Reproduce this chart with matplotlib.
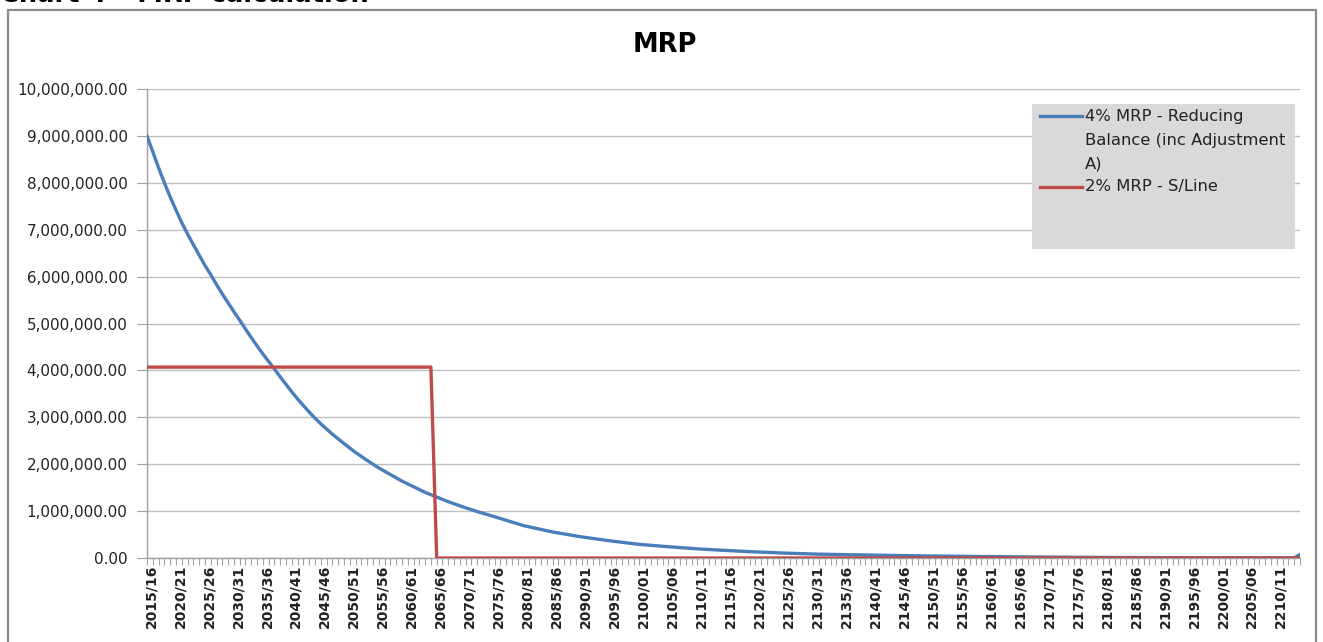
import matplotlib
matplotlib.use("Agg")
import matplotlib.pyplot as plt
import matplotlib.transforms as mtransforms
from matplotlib.patches import Rectangle
from matplotlib.lines import Line2D
from matplotlib.ticker import FuncFormatter, MultipleLocator

# ---- data ----
start_years = list(range(2015, 2215))
categories = [f"{y}/{(y + 1) % 100:02d}" for y in start_years]

blue_idx = list(range(0, 31)) + [32, 34, 36, 38, 40, 42, 44, 46, 48, 50, 52, 55, 57,
                                 60, 65, 70, 75, 80, 85, 90, 95, 100, 105, 110, 115,
                                 120, 125, 130, 135, 140, 145, 150, 155, 160, 165,
                                 170, 175, 180, 185, 190, 195, 198, 199]
blue_vals = [9000000, 8660000, 8320000, 8000000, 7700000, 7420000, 7150000,
             6910000, 6680000, 6460000, 6240000, 6040000, 5830000, 5630000,
             5440000, 5250000, 5070000, 4880000, 4700000, 4520000, 4350000,
             4190000, 4030000, 3860000, 3700000, 3540000, 3390000, 3250000,
             3110000, 2980000, 2860000,
             2640000, 2440000, 2250000, 2080000, 1920000, 1780000, 1640000,
             1520000, 1400000, 1300000, 1200000, 1070000, 990000,
             880000, 690000, 555000, 450000, 365000, 290000, 240000, 195000,
             160000, 130000, 105000, 85000, 72000, 62000, 52000, 44000, 36000,
             30000, 25000, 20000, 15000, 12000, 10000, 8000, 6000, 5000, 4000,
             3000, 3000, 75000]

red_idx = [0, 49, 50, 199]
red_vals = [4070000, 4070000, 0, 0]

series_names = ["4% MRP - Reducing\nBalance (inc Adjustment\nA)", "2% MRP - S/Line"]

# ---- figure ----
W, H = 1323, 642
fig = plt.figure(figsize=(W / 100, H / 100), dpi=100)
fig.patch.set_facecolor("white")


def fx(px):
    return px / W


def fy(py):
    return 1 - py / H


# chart area border
fig.patches.append(Rectangle((fx(8), -0.05), fx(1316) - fx(8), fy(10) + 0.05,
                             transform=fig.transFigure, fill=False,
                             edgecolor="#8c8c8c", linewidth=1.6))
# clipped document heading (cut off at the top, as in the reference)
fig.text(0.0, fy(1.5), "Chart 4 \u2013 MRP calculation", fontsize=18.5,
         fontweight="bold", va="baseline", ha="left", color="black")

left, right, top, bottom = 147, 1300, 89, 558
ax = fig.add_axes([fx(left), fy(bottom), fx(right) - fx(left), fy(top) - fy(bottom)])

blue = "#4a7ebb"
red = "#be4b48"
ax.plot(blue_idx, blue_vals, color=blue, linewidth=2.4, label=series_names[0],
        solid_joinstyle="round", zorder=3)
ax.plot(red_idx, red_vals, color=red, linewidth=2.4, label=series_names[1], zorder=4)

ax.set_xlim(0, len(categories) - 1)
ax.set_ylim(0, 10000000)
ax.yaxis.set_major_locator(MultipleLocator(1000000))
ax.yaxis.set_major_formatter(FuncFormatter(lambda v, p: f"{v:,.2f}"))
ax.grid(axis="y", color="#bfbfbf", linewidth=1.0)
ax.set_axisbelow(True)

major = list(range(0, len(categories), 5))
ax.set_xticks(major)
ax.set_xticklabels([categories[i] for i in major], rotation=90, fontsize=10,
                   fontweight="bold", color="#222222")
ax.set_xticks(range(len(categories)), minor=True)
ax.tick_params(axis="x", which="both", direction="out", length=5, width=0.8,
               color="#a0a0a0", pad=0)
ax.tick_params(axis="y", direction="out", length=7, width=0.8, color="#a0a0a0",
               labelsize=10.9, labelcolor="#222222", pad=7)
shift = mtransforms.ScaledTranslation(4 / 100, 0, fig.dpi_scale_trans)
for lab in ax.get_xticklabels():
    lab.set_transform(lab.get_transform() + shift)

for s in ["top", "right"]:
    ax.spines[s].set_visible(False)
for s in ["left", "bottom"]:
    ax.spines[s].set_color("#a0a0a0")
    ax.spines[s].set_linewidth(1.0)

fig.text(fx(665), fy(45), "MRP", fontsize=18.5, fontweight="bold",
         ha="center", va="center", color="black")

# legend (drawn as a grey box with sample lines and labels)
fig.patches.append(Rectangle((fx(1032), fy(249)), fx(1295) - fx(1032), fy(104) - fy(249),
                             transform=fig.transFigure, facecolor="#d9d9d9",
                             edgecolor="none", zorder=5))
legend_rows = [(series_names[0].split("\n"), blue, 116),
               (series_names[1].split("\n"), red, 187)]
for lines, col, y in legend_rows:
    fig.add_artist(Line2D([fx(1040), fx(1082)], [fy(y), fy(y)], color=col,
                          linewidth=2.4, transform=fig.transFigure, zorder=6))
    for k, line in enumerate(lines):
        fig.text(fx(1085), fy(y + 24 * k), line, fontsize=11.8, ha="left",
                 va="center", color="#222222", zorder=6)

fig.savefig("out.png", dpi=100)
